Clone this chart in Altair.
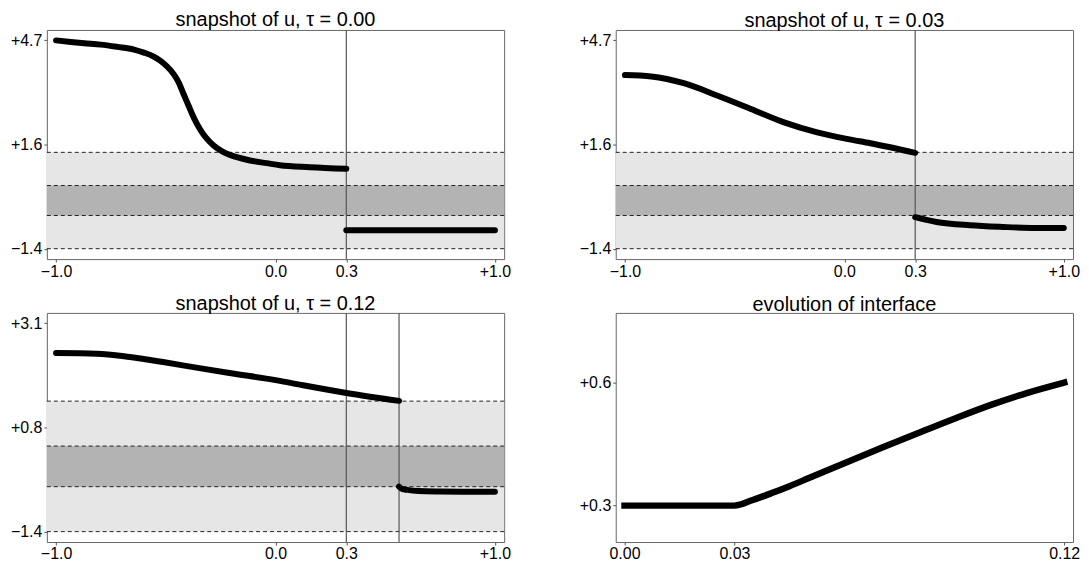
import altair as alt
import pandas as pd

# ---------------- data ----------------
S0 = 0.3227          # initial interface position (labelled 0.3)
S1 = 0.563           # interface position at tau = 0.12 (labelled 0.6)
OUTER = [-1.414, 1.414]
INNER = [-0.44, 0.44]
DASHES = [-1.414, -0.44, 0.44, 1.414]
X_DOM = [-1.042, 1.042]

# tau = 0.00
p1_left_x = [-1.0, -0.933, -0.872, -0.797, -0.721, -0.645, -0.600, -0.555, -0.524, -0.494,
             -0.464, -0.441, -0.419, -0.396, -0.380, -0.358, -0.335, -0.312, -0.282, -0.237,
             -0.176, -0.116, -0.040, 0.020, 0.157, S0]
p1_left_u = [4.70, 4.655, 4.617, 4.576, 4.509, 4.43, 4.342, 4.225, 4.099, 3.933,
             3.71, 3.465, 3.125, 2.783, 2.54, 2.248, 2.002, 1.809, 1.613, 1.417,
             1.271, 1.174, 1.096, 1.035, 0.979, 0.932]
p1_right_x = [S0, 0.5, 0.75, 1.0]
p1_right_u = [-0.873, -0.873, -0.873, -0.873]

# tau = 0.03
p2_left_x = [-1.0, -0.880, -0.728, -0.577, -0.426, -0.275, -0.124, 0.012, 0.118, S0]
p2_left_u = [3.681, 3.640, 3.435, 3.076, 2.687, 2.295, 2.002, 1.809, 1.680, 1.40]
p2_right_x = [S0, 0.420, 0.572, 0.723, 0.874, 1.0]
p2_right_u = [-0.49, -0.630, -0.727, -0.776, -0.806, -0.808]

# tau = 0.12
p3_left_x = [-1.0, -0.815, -0.664, -0.512, -0.361, -0.210, 0.0, 0.126, S0, S1]
p3_left_u = [2.455, 2.442, 2.369, 2.261, 2.140, 2.023, 1.87, 1.757, 1.591, 1.42]
p3_right_x = [S1, 0.577, 0.60, 0.65, 0.75, 0.90, 1.0]
p3_right_u = [-0.44, -0.49, -0.51, -0.535, -0.545, -0.55, -0.55]

# evolution of interface
tau = [0.0, 0.03, 0.035, 0.04, 0.045, 0.05, 0.06, 0.07, 0.08, 0.09, 0.10, 0.11, 0.12]
s_tau = [S0, S0, 0.3337, 0.3467, 0.3607, 0.3755, 0.4055, 0.4350, 0.4640, 0.4925,
         0.5195, 0.5430, S1]

# axis ticks / labels
snap_xticks = [-1.0, 0.0, S0, 1.0]
snap_xlabels = ["\u22121.0", "0.0", "0.3", "+1.0"]
top_yticks = [-1.414, 1.643, 4.70]
top_ylabels = ["\u22121.4", "+1.6", "+4.7"]
p3_yticks = [-1.414, 0.843, 3.10]
p3_ylabels = ["\u22121.4", "+0.8", "+3.1"]
ev_xticks = [0.0, 0.03, 0.12]
ev_xlabels = ["0.00", "0.03", "0.12"]
ev_yticks = [S0, S1]
ev_ylabels = ["+0.3", "+0.6"]

TOP_YDOM = [-1.720, 5.006]
P3_YDOM = [-1.640, 3.326]
EV_XDOM = [-0.0024, 0.1224]
EV_YDOM = [0.2516, 0.6990]

W, H = 459, 230
FONT = "Liberation Sans"


def label_expr(values, labels):
    parts = [f"abs(datum.value - ({v})) < 1e-6 ? '{l}' : " for v, l in zip(values, labels)]
    return "".join(parts) + "''"


def make_axis(values, labels, pad):
    return alt.Axis(values=values, labelExpr=label_expr(values, labels), title=None,
                    grid=False, domain=False, ticks=True, tickSize=3, tickColor="#555",
                    labelFont=FONT, labelFontSize=16, labelColor="black",
                    labelPadding=pad, labelOverlap=False, labelFlush=False)


def make_title(text):
    return alt.TitleParams(text=text, font=FONT, fontSize=20, fontWeight="normal",
                           color="black", anchor="middle", baseline="bottom", offset=-22)


def snapshot(title, lx, lu, rx, ru, interfaces, ydom, yticks, ylabels):
    xs = alt.Scale(domain=X_DOM, nice=False, zero=False)
    ys = alt.Scale(domain=ydom, nice=False, zero=False)
    xa = make_axis(snap_xticks, snap_xlabels, 1)
    ya = make_axis(yticks, ylabels, 2)

    bands = pd.DataFrame({"x": [X_DOM[0]] * 2, "x2": [X_DOM[1]] * 2,
                          "y": [OUTER[0], INNER[0]], "y2": [OUTER[1], INNER[1]],
                          "c": ["outer", "inner"]})
    band_layer = alt.Chart(bands).mark_rect(strokeWidth=0).encode(
        x=alt.X("x:Q", scale=xs, axis=xa), x2="x2:Q",
        y=alt.Y("y:Q", scale=ys, axis=ya), y2="y2:Q",
        color=alt.Color("c:N", scale=alt.Scale(domain=["outer", "inner"],
                                               range=["#e6e6e6", "#b3b3b3"]), legend=None),
    )
    dash_layer = alt.Chart(pd.DataFrame({"y": DASHES})).mark_rule(
        color="#222", strokeWidth=1, strokeDash=[4, 3]).encode(
        y=alt.Y("y:Q", scale=ys, axis=ya))
    vline_layer = alt.Chart(pd.DataFrame({"x": interfaces})).mark_rule(
        color="#555", strokeWidth=1.2).encode(
        x=alt.X("x:Q", scale=xs, axis=xa))
    curve = pd.DataFrame({"x": lx + rx, "u": lu + ru,
                          "branch": ["L"] * len(lx) + ["R"] * len(rx)})
    curve_layer = alt.Chart(curve).mark_line(
        color="black", strokeWidth=6, strokeCap="round", interpolate="monotone").encode(
        x=alt.X("x:Q", scale=xs, axis=xa),
        y=alt.Y("u:Q", scale=ys, axis=ya),
        detail="branch:N")
    return alt.layer(band_layer, dash_layer, vline_layer, curve_layer).properties(
        width=W, height=H, title=make_title(title))


p1 = snapshot("snapshot of u, \u03c4 = 0.00", p1_left_x, p1_left_u, p1_right_x, p1_right_u,
              [S0], TOP_YDOM, top_yticks, top_ylabels)
p2 = snapshot("snapshot of u, \u03c4 = 0.03", p2_left_x, p2_left_u, p2_right_x, p2_right_u,
              [S0], TOP_YDOM, top_yticks, top_ylabels)
p3 = snapshot("snapshot of u, \u03c4 = 0.12", p3_left_x, p3_left_u, p3_right_x, p3_right_u,
              [S0, S1], P3_YDOM, p3_yticks, p3_ylabels)

ev = pd.DataFrame({"t": tau, "s": s_tau})
p4 = alt.Chart(ev).mark_line(color="black", strokeWidth=6.5, strokeCap="square",
                             interpolate="monotone").encode(
    x=alt.X("t:Q", scale=alt.Scale(domain=EV_XDOM, nice=False, zero=False),
            axis=make_axis(ev_xticks, ev_xlabels, 1)),
    y=alt.Y("s:Q", scale=alt.Scale(domain=EV_YDOM, nice=False, zero=False),
            axis=make_axis(ev_yticks, ev_ylabels, 2)),
).properties(width=W, height=H, title=make_title("evolution of interface"))

chart = alt.concat(p1, p2, p3, p4, columns=2,
                   spacing={"row": 54, "column": 112}, bounds="flush").properties(
    padding={"left": 1, "top": 0, "right": 0, "bottom": 0}
).configure(
    background="white",
    view=alt.ViewConfig(stroke="#666666", strokeWidth=1),
)

chart.save("out.html", embed_options={"renderer": "svg", "actions": False})
